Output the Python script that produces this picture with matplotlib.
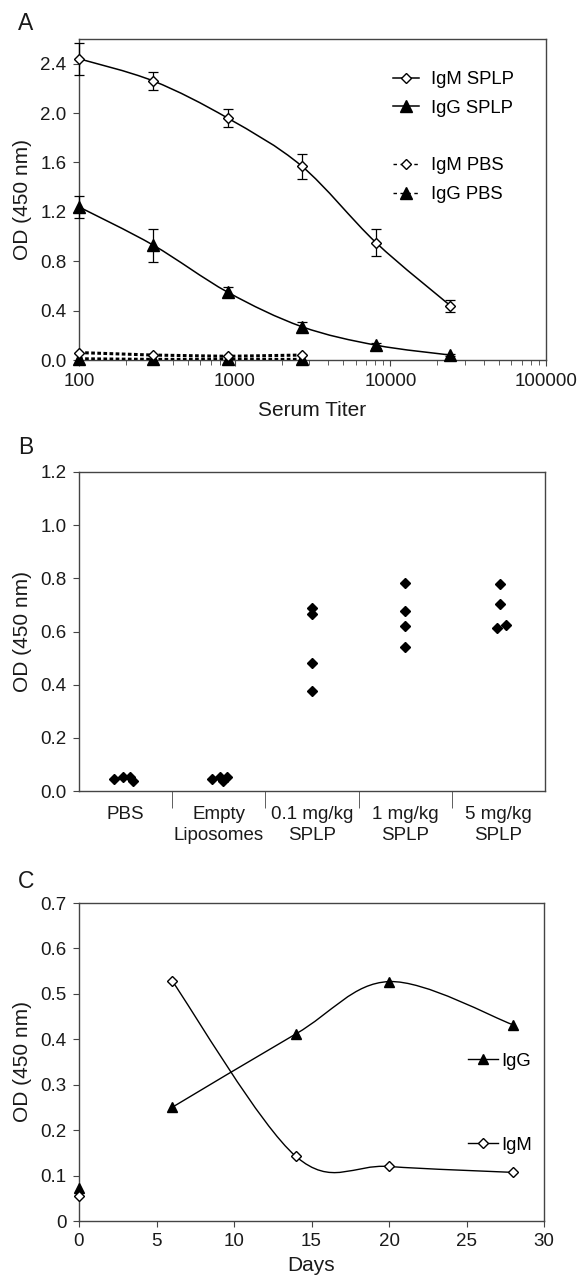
import numpy as np
import matplotlib
matplotlib.use('Agg')
import matplotlib.pyplot as plt
from matplotlib.path import Path
from matplotlib.patches import PathPatch
from matplotlib.lines import Line2D
from matplotlib.ticker import LogLocator, FixedLocator, NullFormatter, FixedFormatter

plt.rcParams['font.family'] = ['Liberation Sans', 'DejaVu Sans']

# ---------------- Panel A data ----------------
titer = [100, 300, 900, 2700, 8100, 24300]
igm_splp = [2.44, 2.26, 1.96, 1.57, 0.95, 0.44]
igm_splp_err = [0.13, 0.07, 0.07, 0.10, 0.11, 0.05]
igg_splp = [1.24, 0.93, 0.55, 0.27, 0.12, 0.04]
igg_splp_err = [0.09, 0.135, 0.04, 0.04, 0.02, 0.01]
titer_pbs = [100, 300, 900, 2700]
igm_pbs = [0.06, 0.04, 0.03, 0.04]
igg_pbs = [0.01, 0.005, 0.005, 0.005]

# ---------------- Panel B data ----------------
groups = ['PBS', 'Empty\nLiposomes', '0.1 mg/kg\nSPLP', '1 mg/kg\nSPLP', '5 mg/kg\nSPLP']
od_pbs = [0.044, 0.053, 0.053, 0.038]
od_empty = [0.044, 0.053, 0.038, 0.053]
od_splp01 = [0.690, 0.665, 0.483, 0.375]
od_splp1 = [0.782, 0.677, 0.622, 0.542]
od_splp5 = [0.779, 0.702, 0.613, 0.623]
# horizontal jitter used to separate overlapping markers (style)
jitter = [[-0.12, -0.03, 0.05, 0.08],
          [-0.07, 0.01, 0.04, 0.09],
          [0.0, 0.0, 0.0, 0.0],
          [0.0, 0.0, 0.0, 0.0],
          [0.02, 0.02, -0.02, 0.08]]

# ---------------- Panel C data ----------------
days = [0, 6, 14, 20, 28]
igg_days = [0.072, 0.250, 0.412, 0.527, 0.432]
igm_days = [0.054, 0.529, 0.142, 0.120, 0.107]

SPINE = '#444444'
TXT = '#1a1a1a'
TICK_FS = 13.5
LABEL_FS = 15
LEG_FS = 13.3


def smooth_path(xs, ys):
    P = np.column_stack([xs, ys]).astype(float)
    n = len(P)
    verts = [P[0]]
    codes = [Path.MOVETO]
    for i in range(n - 1):
        p0 = P[i - 1] if i > 0 else P[i]
        p1 = P[i]
        p2 = P[i + 1]
        p3 = P[i + 2] if i + 2 < n else P[i + 1]
        c1 = p1 + (p2 - p0) / 6.0
        c2 = p2 - (p3 - p1) / 6.0
        verts += [c1, c2, p2]
        codes += [Path.CURVE4] * 3
    return np.array(verts), codes


def add_smooth(ax, xs, ys, logx=False, **kw):
    xs = np.asarray(xs, float)
    if logx:
        v, c = smooth_path(np.log10(xs), ys)
        v[:, 0] = 10 ** v[:, 0]
    else:
        v, c = smooth_path(xs, ys)
    ax.add_patch(PathPatch(Path(v, c), fill=False, transform=ax.transData, **kw))


def style_axes(ax):
    for s in ax.spines.values():
        s.set_color(SPINE)
        s.set_linewidth(1.0)
    ax.tick_params(which='both', direction='out', color=SPINE, labelcolor=TXT,
                   labelsize=TICK_FS, top=False, right=False)
    ax.tick_params(which='major', length=4, pad=3)
    ax.tick_params(axis='y', which='major', pad=5)
    ax.tick_params(which='minor', length=3.5)


fig = plt.figure(figsize=(5.86, 12.79), dpi=100)
W, H = 586.0, 1279.0


def add_ax(l, r, t, b):
    return fig.add_axes([l / W, 1 - b / H, (r - l) / W, (b - t) / H])


# ================= Panel A =================
axA = add_ax(79, 546, 39, 360)
style_axes(axA)
axA.set_xscale('log')
axA.set_xlim(100, 100000)
axA.set_ylim(0, 2.6)
axA.set_yticks(np.arange(0, 2.41, 0.4))
axA.set_yticklabels([f'{v:.1f}' for v in np.arange(0, 2.41, 0.4)])
axA.xaxis.set_major_locator(FixedLocator([100, 1000, 10000, 100000]))
axA.xaxis.set_major_formatter(FixedFormatter(['100', '1000', '10000', '100000']))
axA.xaxis.set_minor_locator(LogLocator(base=10, subs=np.arange(2, 10)))
axA.xaxis.set_minor_formatter(NullFormatter())
axA.tick_params(axis='x', which='major', pad=5)

add_smooth(axA, titer, igm_splp, logx=True, edgecolor='k', lw=1.1, zorder=3)
add_smooth(axA, titer, igg_splp, logx=True, edgecolor='k', lw=1.1, zorder=3)
axA.errorbar(titer, igm_splp, yerr=igm_splp_err, fmt='none', ecolor='k',
             elinewidth=0.9, capsize=3.3, capthick=0.9, zorder=4, clip_on=False)
axA.errorbar(titer, igg_splp, yerr=igg_splp_err, fmt='none', ecolor='k',
             elinewidth=0.9, capsize=3.3, capthick=0.9, zorder=4, clip_on=False)
axA.plot(titer_pbs, igg_pbs, color='k', lw=2.2, linestyle=(0, (1.2, 0.8)), zorder=3)
axA.plot(titer_pbs, igm_pbs, color='k', lw=2.2, linestyle=(0, (1.2, 0.8)), zorder=3)
axA.plot(titer_pbs, igg_pbs, '^', color='k', ms=8, clip_on=False, zorder=5, ls='none')
axA.plot(titer_pbs, igm_pbs, 'D', mfc='white', mec='k', mew=1.0, ms=5.5,
         clip_on=False, zorder=6, ls='none')
axA.plot(titer, igg_splp, '^', color='k', ms=8, clip_on=False, zorder=5, ls='none')
axA.plot(titer, igm_splp, 'D', mfc='white', mec='k', mew=1.0, ms=5.5,
         clip_on=False, zorder=6, ls='none')

hA = [Line2D([], [], color='k', lw=1.1, marker='D', mfc='white', mec='k', ms=5.5),
      Line2D([], [], color='k', lw=1.1, marker='^', ms=8),
      Line2D([], [], color='none'),
      Line2D([], [], color='k', lw=1.0, ls=(0, (2.5, 2.5)), marker='D', mfc='white', mec='k', ms=5.5),
      Line2D([], [], color='k', lw=1.0, ls=(0, (2.5, 2.5)), marker='^', ms=8)]
lA = ['IgM SPLP', 'IgG SPLP', '', 'IgM PBS', 'IgG PBS']
axA.legend(hA, lA, loc='upper left', bbox_to_anchor=(393 / W, 1 - 71 / H),
           bbox_transform=fig.transFigure, frameon=False, borderpad=0,
           handlelength=1.4, handletextpad=0.65, labelspacing=0.64,
           fontsize=LEG_FS, borderaxespad=0)
axA.set_xlabel('Serum Titer', fontsize=LABEL_FS, color=TXT)
axA.xaxis.set_label_coords(0.5, (360 - 401) / 321.0)
axA.set_ylabel('OD (450 nm)', fontsize=LABEL_FS, color=TXT)
axA.yaxis.set_label_coords((32 - 79) / 467.0, 0.5)

# ================= Panel B =================
axB = add_ax(79, 545, 472, 791)
style_axes(axB)
axB.set_xlim(0.5, 5.5)
axB.set_ylim(0, 1.2)
axB.set_yticks(np.arange(0, 1.21, 0.2))
axB.set_yticklabels([f'{v:.1f}' for v in np.arange(0, 1.21, 0.2)])
axB.set_xticks(range(1, 6))
axB.set_xticklabels(groups, fontsize=TICK_FS, linespacing=1.3)
axB.set_xticks([1.5, 2.5, 3.5, 4.5], minor=True)
axB.tick_params(axis='x', which='major', length=0, pad=11)
axB.tick_params(axis='x', which='minor', length=12)
for i, vals in enumerate([od_pbs, od_empty, od_splp01, od_splp1, od_splp5]):
    xs = [i + 1 + j for j in jitter[i]]
    axB.plot(xs, vals, 'D', color='k', ms=5.5, ls='none', clip_on=False, zorder=5)
axB.set_ylabel('OD (450 nm)', fontsize=LABEL_FS, color=TXT)
axB.yaxis.set_label_coords((32 - 79) / 466.0, 0.5)

# ================= Panel C =================
axC = add_ax(79, 544, 903, 1221)
style_axes(axC)
axC.set_xlim(0, 30)
axC.set_ylim(0, 0.7)
axC.set_xticks(range(0, 31, 5))
axC.set_yticks(np.arange(0, 0.71, 0.1))
axC.set_yticklabels(['0'] + [f'{v:.1f}' for v in np.arange(0.1, 0.71, 0.1)])
axC.tick_params(axis='x', which='major', pad=5)
add_smooth(axC, days[1:], igg_days[1:], edgecolor='k', lw=1.0, zorder=3)
add_smooth(axC, days[1:], igm_days[1:], edgecolor='k', lw=1.0, zorder=3)
axC.plot(days, igg_days, '^', color='k', ms=7.5, ls='none', clip_on=False, zorder=5)
axC.plot(days, igm_days, 'D', mfc='white', mec='k', mew=1.0, ms=4.6, ls='none',
         clip_on=False, zorder=6)
axC.set_xlabel('Days', fontsize=LABEL_FS, color=TXT)
axC.xaxis.set_label_coords(0.5, (1221 - 1256) / 318.0)
axC.set_ylabel('OD (450 nm)', fontsize=LABEL_FS, color=TXT)
axC.yaxis.set_label_coords((32 - 79) / 465.0, 0.5)

legG = axC.legend([Line2D([], [], color='k', lw=1.0, marker='^', ms=7.5)], ['IgG'],
                  loc='center left', bbox_to_anchor=(468 / W, 1 - 1061 / H),
                  bbox_transform=fig.transFigure, frameon=False, borderpad=0,
                  handlelength=1.6, handletextpad=0.2, fontsize=LEG_FS, borderaxespad=0)
axC.add_artist(legG)
axC.legend([Line2D([], [], color='k', lw=1.0, marker='D', mfc='white', mec='k', ms=4.6)], ['IgM'],
           loc='center left', bbox_to_anchor=(468 / W, 1 - 1145 / H),
           bbox_transform=fig.transFigure, frameon=False, borderpad=0,
           handlelength=1.6, handletextpad=0.2, fontsize=LEG_FS, borderaxespad=0)

# panel letters
for letter, y in [('A', 23), ('B', 448), ('C', 882)]:
    fig.text(18 / W, 1 - y / H, letter, fontsize=16.5, color=TXT, ha='left', va='center')

fig.savefig('out.png', dpi=100)
